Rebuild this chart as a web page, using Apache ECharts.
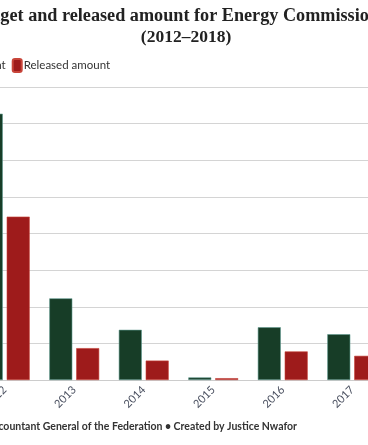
<!DOCTYPE html>
<html><head><meta charset="utf-8">
<script src="https://cdn.jsdelivr.net/npm/echarts@6/dist/echarts.min.js"></script>
<style>
html,body{margin:0;padding:0;width:368px;height:445px;overflow:hidden;background:#fff;}
#c{position:absolute;left:-100px;top:0;width:572px;height:445px;}
</style></head><body>
<div id="c"></div>
<script>
const years = ['2012','2013','2014','2015','2016','2017','2018'];
const budget = [7.27, 2.23, 1.37, 0.07, 1.44, 1.25, 1.2];
const released = [4.46, 0.87, 0.53, 0.05, 0.78, 0.66, 0.6];
const seriesNames = ['Budget amount', 'Released amount'];
const titleLine1 = 'Budget and released amount for Energy Commission';
const titleLine2 = '(2012–2018)';
const sourceText = 'Source: Office of the Accountant General of the Federation • Created by Justice Nwafor';

const chart = echarts.init(document.getElementById('c'), null, {renderer:'canvas'});
chart.setOption({
  animation:false,
  backgroundColor:'#fff',
  title:[{
    text:titleLine1, left:68, top:6, padding:0,
    textStyle:{fontFamily:'Liberation Serif', fontWeight:'bold', fontSize:18.2, lineHeight:21, color:'#222'}
  },{
    text:titleLine2, left:'center', top:27, padding:0,
    textStyle:{fontFamily:'Liberation Serif', fontWeight:'bold', fontSize:17.5, lineHeight:20, color:'#222'}
  }],
  legend:{
    data:seriesNames, left:11, top:53, itemWidth:9, itemHeight:13, itemGap:6,
    icon:'roundRect',
    textStyle:{fontFamily:'Lato', fontSize:11.5, color:'#333', padding:[0,0,0,-3]}
  },
  grid:{left:70, right:15.5, top:87, bottom:65},
  xAxis:{
    type:'category', data:years,
    axisLine:{lineStyle:{color:'#ccc'}},
    axisTick:{alignWithLabel:true, length:4, lineStyle:{color:'#bbb'}},
    axisLabel:{rotate:45, fontFamily:'Lato', fontSize:11, color:'#4a5060', margin:8}
  },
  yAxis:{
    type:'value', min:0, max:8, interval:1,
    axisLine:{show:false}, axisTick:{show:false},
    axisLabel:{fontFamily:'Lato', fontSize:11, color:'#555'},
    splitLine:{lineStyle:{color:'#d4d4d4', width:1}}
  },
  series:[
    {name:seriesNames[0], type:'bar', data:budget, barWidth:23, barGap:'17%', barCategoryGap:'30%',
     itemStyle:{color:'#173d27', borderColor:'#5f9b8e', borderWidth:0.6}},
    {name:seriesNames[1], type:'bar', data:released, barWidth:23,
     itemStyle:{color:'#9e1b1b', borderColor:'#c8453a', borderWidth:0.6}}
  ],
  graphic:[{
    type:'text', right:175, top:421,
    style:{text:sourceText, fontFamily:'Lato', fontWeight:'bold', fontSize:10.5, fill:'#333'}
  }]
});
</script>
</body></html>
